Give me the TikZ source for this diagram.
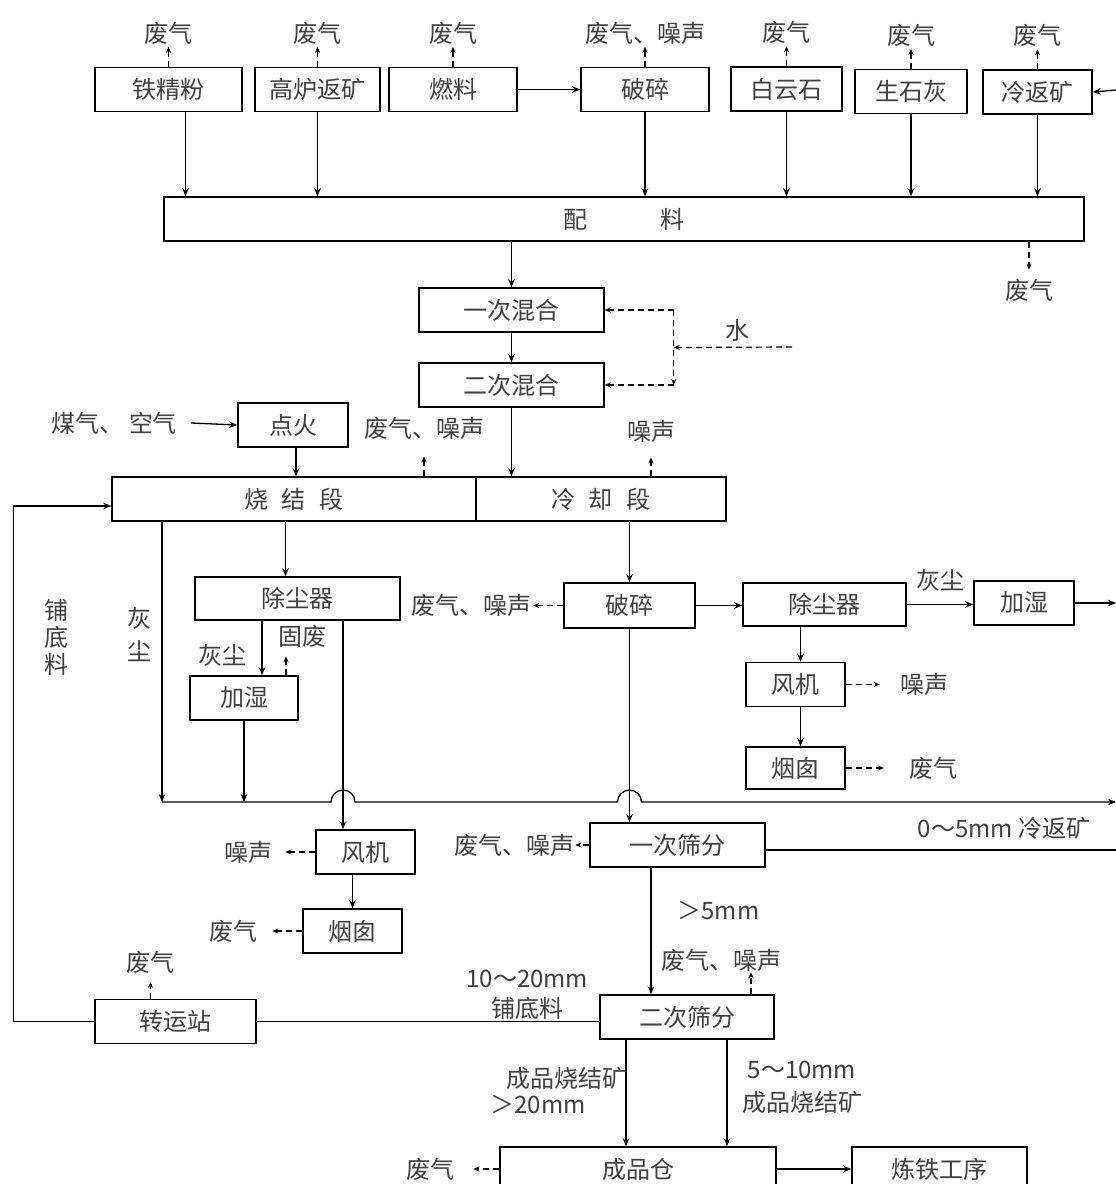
\documentclass[tikz,border=0pt]{standalone}
\usepackage{fontspec}
\setmainfont{Noto Sans CJK SC}
\usetikzlibrary{arrows.meta, calc}
\tikzset{
  proc/.style={draw, line width=1.5pt, minimum height=44pt, inner sep=0pt, text=black!75},
  txt/.style={inner sep=0pt, text=black!75},
  flow/.style={-{Stealth[length=8pt, width=6.5pt]}, line width=1.3pt},
  plain/.style={line width=1.3pt},
  waste/.style={-{Stealth[length=6pt, width=5pt]}, line width=1.2pt, dash pattern=on 6pt off 4pt}
}

\begin{document}
\begin{tikzpicture}[x=1pt, y=-1pt, font=\fontsize{24}{28}\selectfont]
        \useasboundingbox (0,0) rectangle (1116,1184);
        \fill[white] (0,0) rectangle (1116,1184);

        % Raw materials
        \node[proc, minimum width=147pt] (iron)    at (168.5,89.5) {铁精粉};
        \node[proc, minimum width=125pt] (bfret)   at (317.5,89.5) {高炉返矿};
        \node[proc, minimum width=128pt] (fuel)    at (453,89.5)   {燃料};
        \node[proc, minimum width=128pt] (crush1)  at (645,89.5)   {破碎};
        \node[proc, minimum width=111pt] (dolo)    at (786.5,89)   {白云石};
        \node[proc, minimum width=112pt] (lime)    at (911,91.5)   {生石灰};
        \node[proc, minimum width=109pt] (coldret) at (1037.5,92)  {冷返矿};
        \coordinate (retin) at (1116,90);

        \foreach \n in {iron,bfret,fuel,dolo,lime,coldret}
          \draw[waste] (\n.north) -- ++(0,-20) node[txt, above=2pt] {废气};
        \draw[waste] (crush1.north) -- ++(0,-20) node[txt, above=2pt] {废气、噪声};

        \draw[flow] (fuel.east) -- (crush1.west);
        \draw[flow] (retin) -- (coldret.east);

        % Batching
        \node[proc, minimum width=920pt] (batch) at (624,219) {配\hspace{73pt}料};
        \draw[flow] ([xshift=17pt]iron.south) -- ([xshift=17pt]iron.south |- batch.north);
        \foreach \n in {bfret,crush1,dolo,lime,coldret}
          \draw[flow] (\n.south) -- (\n.south |- batch.north);
        \draw[waste] ([xshift=405pt]batch.south) -- ++(0,28) node[txt, below=9pt] {废气};

        % Mixing
        \node[proc, minimum width=185pt] (mix1) at (511.5,310) {一次混合};
        \node[proc, minimum width=185pt] (mix2) at (511.5,385) {二次混合};
        \draw[flow] (batch.south -| mix1.north) -- (mix1.north);
        \draw[flow] (mix1) -- (mix2);

        \coordinate (wtop) at ($(mix1.east)+(69,0)$);
        \coordinate (wbot) at ($(mix2.east)+(69,0)$);
        \coordinate (w0) at (792,347);
        \node[txt] (water) at (737,330) {水};
        \draw[waste] (w0) -- ($(wtop)!0.5!(wbot)$);
        \draw[waste] (wtop) -- (mix1.east);
        \draw[waste] (wtop) -- (wbot);
        \draw[waste] (wbot) -- (mix2.east);

        % Sintering and cooling
        \node[proc, minimum width=110pt] (ignite) at (293,425) {点火};
        \node[txt] (gas) at (114,423) {煤气、\hspace{6pt}空气};
        \draw[flow] ([xshift=14pt]gas.east) -- (ignite.west);

        \node[proc, minimum width=364pt] (sinter) at (294,499) {烧\hspace{14pt}结\hspace{14pt}段};
        \node[proc, minimum width=250pt] (cool)   at (601,499) {冷\hspace{14pt}却\hspace{14pt}段};
        \draw[flow] ([xshift=3pt]ignite.south) -- ([xshift=3pt]ignite.south |- sinter.north);
        \draw[flow] (mix2.south) -- (mix2.south |- cool.north);
        \draw[waste] ([xshift=130pt]sinter.north) -- ++(0,-20) node[txt, above=16pt] {废气、噪声};
        \draw[waste] ([xshift=50pt]cool.north) -- ++(0,-19) node[txt, above=14pt] {噪声};

        % Sinter dust line
        \node[proc, minimum width=205pt, minimum height=43pt] (dust1) at (297.5,598.5) {除尘器};
        \node[proc, minimum width=108pt] (hum1)   at (244,698)   {加湿};
        \node[proc, minimum width=99pt]  (fan1)   at (365.5,852) {风机};
        \node[proc, minimum width=99pt]  (stack1) at (352.5,931) {烟囱};
        \coordinate (d1out) at ([xshift=45.5pt]dust1.south);
        \coordinate (bus) at (162,802);
        \coordinate (busend) at (1116,802);

        \draw[flow] ([xshift=-12pt]dust1.north |- sinter.south) -- ([xshift=-12pt]dust1.north);
        \draw[flow] ([xshift=18pt]hum1.north |- dust1.south) -- ([xshift=18pt]hum1.north)
          node[txt, pos=0.63, left=15pt] {灰尘};
        \draw[waste] ([xshift=42pt]hum1.north) -- ++(0,-19) node[txt, above=8pt, xshift=16pt] {固废};
        \draw[flow] (hum1.south) -- (hum1.south |- bus);
        \draw[flow] (d1out) -- (d1out |- fan1.north);
        \draw[flow] (stack1.north |- fan1.south) -- (stack1.north);
        \draw[waste] (fan1.west) -- ++(-30,0) node[txt, left=12pt] {噪声};
        \draw[waste] (stack1.west) -- ++(-30,0) node[txt, left=14pt] {废气};
        \draw[flow] (bus |- sinter.south) -- (bus);

        \node[txt, align=center, font=\fontsize{24}{27}\selectfont] (bedtxt) at (57,637) {铺\\底\\料};
        \node[txt, align=center, font=\fontsize{24}{33}\selectfont] (dusttxt) at (139,634) {灰\\尘};

        % Cooler line
        \node[proc, minimum width=131pt, minimum height=45pt] (crush2) at (629.5,605.5) {破碎};
        \node[proc, minimum width=163pt, minimum height=43pt] (dust2)  at (824.5,604.5) {除尘器};
        \node[proc, minimum width=100pt] (hum2)   at (1024,603)   {加湿};
        \node[proc, minimum width=99pt]  (fan2)   at (795.5,684.5) {风机};
        \node[proc, minimum width=99pt, minimum height=42pt] (stack2) at (795.5,768) {烟囱};

        \draw[flow] (crush2.north |- cool.south) -- (crush2.north);
        \draw[waste] (crush2.west) -- ++(-30,0) node[txt, left=1pt] {废气、噪声};
        \draw[flow] (crush2.east) -- (crush2.east -| dust2.west);
        \draw[flow] (dust2.east) -- (dust2.east -| hum2.west) node[txt, midway, above=12pt] {灰尘};
        \draw[flow] (hum2.east) -- (hum2.east -| busend);
        \draw[flow] ([xshift=5pt]fan2.north |- dust2.south) -- ([xshift=5pt]fan2.north);
        \draw[flow] ([xshift=5pt]fan2.south) -- ([xshift=5pt]fan2.south |- stack2.north);
        \draw[waste] (fan2.east) -- ++(34,0) node[txt, right=20pt] {噪声};
        \draw[waste] (stack2.east) -- ++(38,0) node[txt, right=25pt] {废气};

        % Collecting line with bridges
        \draw[flow] (bus) -- ($(bus -| d1out)+(-12,0)$) arc[start angle=180, end angle=360, radius=12]
          -- ($(bus -| crush2.south)+(-12,0)$) arc[start angle=180, end angle=360, radius=12]
          -- (busend);

        % Screening
        \node[proc, minimum width=175pt] (screen1) at (677.5,845) {一次筛分};
        \node[proc, minimum width=174pt] (screen2) at (687,1017)  {二次筛分};
        \draw[flow] (crush2.south) -- (crush2.south |- screen1.north);
        \draw[waste] (screen1.west) -- ++(-14,0) node[txt, left=0pt] {废气、噪声};
        \draw[plain] ([yshift=-5pt]screen1.east) -- ([yshift=-5pt]screen1.east -| busend)
          node[txt, pos=0.68, above=10pt] {0～5mm 冷返矿};
        \draw[flow] ([xshift=-26.5pt]screen1.south) -- ([xshift=-26.5pt]screen1.south |- screen2.north)
          node[txt, pos=0.34, right=26pt] {＞5mm};
        \draw[waste] ([xshift=64pt]screen2.north) -- ++(0,-22) node[txt, above=0pt, xshift=-30pt] {废气、噪声};

        % Transfer station
        \node[proc, minimum width=161pt] (transfer) at (175.5,1021.5) {转运站};
        \draw[plain] (screen2.west |- transfer.east) -- (transfer.east)
          node[txt, pos=0.21, above=1pt, align=center, font=\fontsize{24}{30}\selectfont] {10～20mm\\铺底料};
        \draw[flow] (transfer.west) -- ++(-81,0) |- ([yshift=-7pt]sinter.west);
        \draw[waste] ([xshift=-25pt]transfer.north) -- ++(0,-17) node[txt, above=8pt] {废气};

        % Product
        \node[proc, minimum width=276pt] (store) at (638,1169)   {成品仓};
        \node[proc, minimum width=175pt] (blast) at (939.5,1169) {炼铁工序};
        \draw[flow] ([xshift=-61pt]screen2.south) -- ([xshift=-61pt]screen2.south |- store.north);
        \draw[flow] ([xshift=40pt]screen2.south) -- ([xshift=40pt]screen2.south |- store.north);
        \node[txt] (big1) at (566,1078) {成品烧结矿};
        \node[txt] (big2) at (538,1104) {＞20mm};
        \node[txt] (mid1) at (802,1070) {5～10mm};
        \node[txt] (mid2) at (802,1102) {成品烧结矿};
        \draw[flow] (store.east) -- (blast.west);
        \draw[waste] (store.west) -- ++(-26,0) node[txt, left=18pt] {废气};
    \end{tikzpicture}
\end{document}
